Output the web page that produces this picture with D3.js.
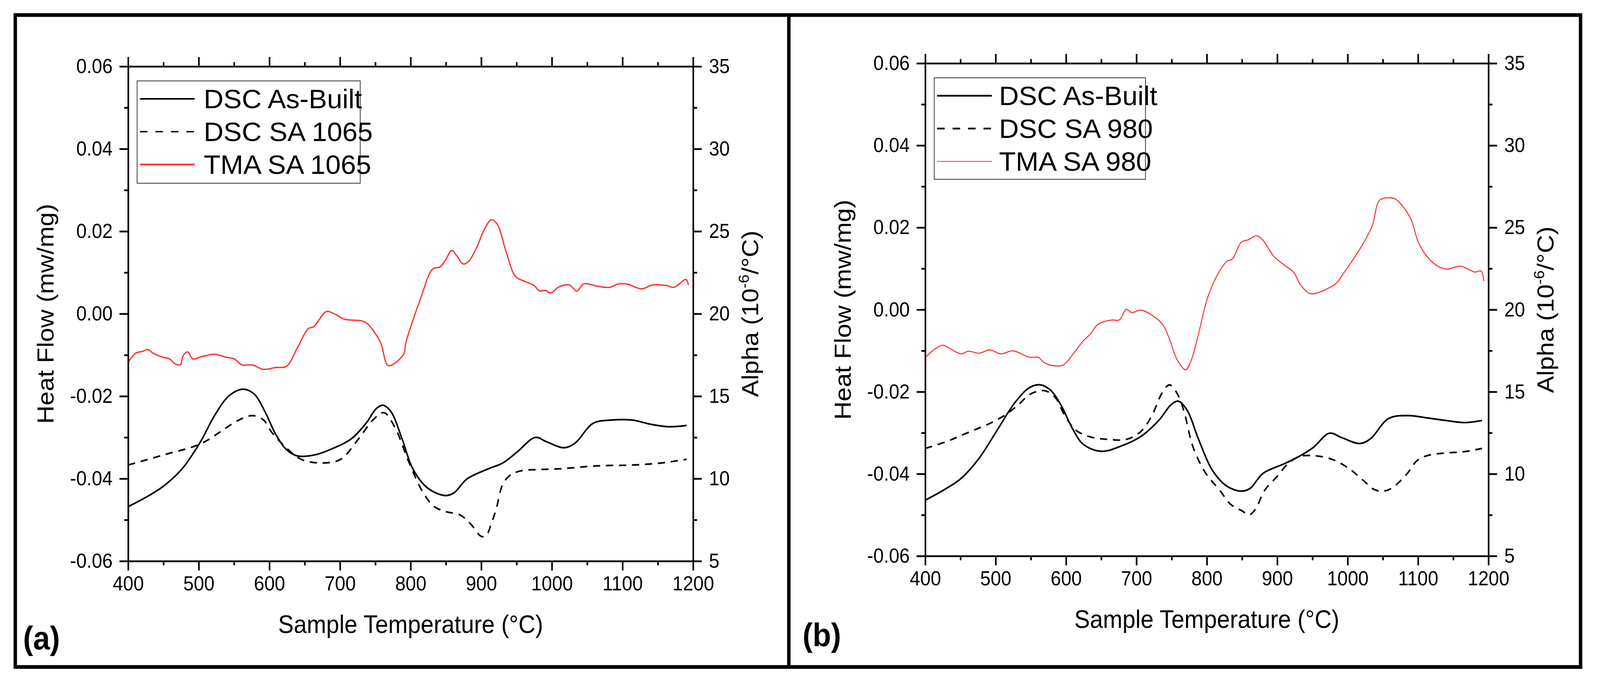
<!DOCTYPE html>
<html>
<head>
<meta charset="utf-8">
<script src="https://cdn.jsdelivr.net/npm/d3@7"></script>
<style>
  html, body { margin: 0; padding: 0; background: #fff; overflow: hidden; }
  svg { display: block; width: 100vw; height: 100vh; }
  text { font-family: "Liberation Sans", Arial, sans-serif; fill: #000; }
</style>
</head>
<body>
<svg id="chart" viewBox="0 0 4446 1748" preserveAspectRatio="none"></svg>
<script>
// ---- data: [temperature °C, value] ----
const xTicks = [400, 500, 600, 700, 800, 900, 1000, 1100, 1200];
const hfTicks = [-0.06, -0.04, -0.02, 0.00, 0.02, 0.04, 0.06];
const alphaTicks = [5, 10, 15, 20, 25, 30, 35];

// panel (a)
const dscAsBuiltA = [
  [400,-0.0468],[425.5,-0.0445],[451,-0.0417],[476.5,-0.0376],[502,-0.0312],[522.4,-0.0247],
  [542.9,-0.0199],[563.3,-0.0183],[578.6,-0.0195],[593.9,-0.0238],[609.2,-0.0293],[624.5,-0.0330],
  [639.8,-0.0345],[665.3,-0.0342],[690.8,-0.0326],[716.3,-0.0303],[736.7,-0.0266],[752,-0.0229],
  [761.2,-0.0222],[772.4,-0.0238],[787.8,-0.0303],[803.1,-0.0376],[823.5,-0.0422],[849,-0.0441],
  [861.7,-0.0434],[879.6,-0.0401],[910.2,-0.0376],[930.6,-0.0362],[951,-0.0335],[976.5,-0.0300],
  [991.8,-0.0310],[1017.3,-0.0325],[1032.7,-0.0314],[1058.2,-0.0266],[1083.7,-0.0258],[1114.3,-0.0258],
  [1139.8,-0.0268],[1165.3,-0.0274],[1190.8,-0.0271]
];
const dscSA1065 = [
  [400,-0.0367],[451,-0.0342],[502,-0.0316],[532.7,-0.0284],[553.1,-0.0261],[576,-0.0247],
  [591.3,-0.0257],[604,-0.0289],[624.5,-0.0326],[644.9,-0.0353],[675.5,-0.0362],[701,-0.0353],
  [726.5,-0.0303],[747,-0.0257],[762.2,-0.0240],[777.6,-0.0275],[798,-0.0362],[818.4,-0.0436],
  [833.7,-0.0468],[850,-0.0480],[870,-0.0488],[885,-0.0510],[900,-0.0540],[907,-0.0538],
  [915,-0.0505],[921,-0.0475],[930.6,-0.0413],[940.8,-0.0392],[956.1,-0.0381],[981.6,-0.0378],
  [1012.2,-0.0376],[1063.3,-0.0369],[1114.3,-0.0367],[1155.1,-0.0362],[1190.8,-0.0353]
];
const tmaSA1065 = [
  [400,17.03],[410.2,17.60],[420.4,17.72],[428,17.83],[435.7,17.60],[448.5,17.37],[458.7,17.26],
  [466.3,16.97],[474,16.91],[477.6,17.43],[484.2,17.69],[491.8,17.26],[502,17.37],[522.4,17.55],
  [537.8,17.37],[550.5,17.26],[560.7,16.91],[576,16.89],[591.3,16.63],[609.2,16.74],[624.5,16.82],
  [639.8,17.95],[655.1,19.10],[662.8,19.21],[680.6,20.13],[693.4,19.96],[706.1,19.67],[731.6,19.56],
  [739.3,19.38],[757.1,18.29],[768.4,16.86],[790.3,17.55],[792.9,18.18],[813.3,20.82],[831.1,22.71],
  [841.3,22.83],[849,23.23],[858.2,23.84],[865.3,23.52],[874.5,23.02],[882.1,23.17],[894.9,24.15],
  [902.5,24.95],[914.3,25.70],[922.9,25.41],[935.7,23.69],[948.5,22.26],[961.2,21.97],[974,21.74],
  [982.6,21.39],[990.8,21.42],[998.5,21.26],[1009.7,21.62],[1025,21.74],[1035.2,21.37],[1045.4,21.82],
  [1063.3,21.68],[1081.1,21.60],[1093.9,21.80],[1106.6,21.80],[1127,21.51],[1142.3,21.74],
  [1162.8,21.71],[1173,21.60],[1189.8,22.08],[1193.4,21.74]
];

// panel (b)
const dscAsBuiltB = [
  [400,-0.0464],[425.5,-0.0440],[451,-0.0411],[476.5,-0.0362],[502,-0.0294],[527.6,-0.0226],
  [548,-0.0190],[563.3,-0.0183],[578.6,-0.0197],[593.9,-0.0236],[609.2,-0.0290],[624.5,-0.0328],
  [650,-0.0345],[675.5,-0.0334],[706.1,-0.0309],[731.6,-0.0270],[749.5,-0.0231],[759.7,-0.0223],
  [772.4,-0.0246],[787.8,-0.0314],[808.2,-0.0392],[828.6,-0.0430],[849,-0.0442],[861.7,-0.0435],
  [879.6,-0.0399],[910.2,-0.0375],[930.6,-0.0358],[951,-0.0336],[974,-0.0301],[991.8,-0.0312],
  [1017.3,-0.0326],[1032.7,-0.0314],[1058.2,-0.0265],[1086.2,-0.0258],[1114.3,-0.0264],
  [1139.8,-0.0270],[1165.3,-0.0275],[1190.8,-0.0270]
];
const dscSA980 = [
  [400,-0.0338],[430.6,-0.0321],[461.2,-0.0299],[491.8,-0.0277],[512.2,-0.0258],[532.7,-0.0231],
  [548,-0.0207],[568.4,-0.0197],[583.7,-0.0212],[599,-0.0260],[614.3,-0.0294],[634.7,-0.0310],
  [660.2,-0.0316],[685.7,-0.0316],[706.1,-0.0297],[721.4,-0.0260],[736.7,-0.0202],[746.9,-0.0183],
  [757.1,-0.0202],[767.3,-0.0246],[780.1,-0.0333],[797.9,-0.0397],[818.4,-0.0440],[833.7,-0.0474],
  [850,-0.0490],[860,-0.0500],[869.4,-0.0485],[882.1,-0.0440],[900,-0.0406],[915.3,-0.0375],
  [930.6,-0.0358],[945.9,-0.0355],[966.3,-0.0359],[981.6,-0.0367],[1002,-0.0387],[1022.4,-0.0416],
  [1037.8,-0.0438],[1050.5,-0.0442],[1063.3,-0.0434],[1083.7,-0.0401],[1099,-0.0367],
  [1114.3,-0.0355],[1139.8,-0.0349],[1165.3,-0.0346],[1190.8,-0.0338]
];
const tmaSA980 = [
  [400,17.07],[410.2,17.49],[424.5,17.83],[435.7,17.61],[451,17.31],[461.2,17.47],[476.5,17.35],
  [491.8,17.55],[507.1,17.31],[525,17.49],[548,17.10],[560.7,17.10],[568.4,16.79],[583.7,16.58],
  [596.4,16.64],[609.2,17.25],[624.5,18.10],[634.7,18.52],[644.9,19.09],[665.3,19.37],[675.5,19.37],
  [685.7,20.02],[693.4,19.82],[706.1,19.98],[721.4,19.68],[736.7,19.13],[746.9,18.22],[757.1,17.01],
  [769.9,16.34],[777.5,16.88],[787.8,18.46],[800.5,20.65],[813.3,21.98],[828.6,22.95],[836.2,23.08],
  [849,24.11],[859.2,24.26],[870.4,24.50],[879.6,24.23],[894.9,23.26],[910.2,22.71],[923,22.29],
  [933.2,21.50],[945.9,20.99],[956.1,21.01],[976.5,21.40],[984.2,21.62],[994.4,22.23],[1007.1,23.01],
  [1022.4,24.05],[1035.2,25.14],[1045.4,26.66],[1060.7,26.81],[1068.4,26.72],[1088.8,25.62],
  [1101.6,23.99],[1121.9,22.83],[1139.8,22.47],[1160.2,22.65],[1180.6,22.29],[1189.8,22.35],
  [1193.4,21.74]
];

const RED = "#ff3333";

const panels = [
  {
    x0: 356, x1: 1926, y0: 170, y1: 1436, tag: "(a)", tagX: 64, tagY: 1662,
    legendW: 620, legendH: 262, textX: 185,
    series: [
      { name: "DSC As-Built", data: dscAsBuiltA, axis: "hf", color: "#000", width: 4.2, dash: null, legW: 4 },
      { name: "DSC SA 1065", data: dscSA1065, axis: "hf", color: "#000", width: 4.2, dash: "20,16", legW: 3.5 },
      { name: "TMA SA 1065", data: tmaSA1065, axis: "alpha", color: RED, width: 3.5, dash: null, legW: 4.5 }
    ]
  },
  {
    x0: 2571, x1: 4136, y0: 162, y1: 1423, tag: "(b)", tagX: 2230, tagY: 1654,
    legendW: 587, legendH: 260, textX: 180,
    series: [
      { name: "DSC As-Built", data: dscAsBuiltB, axis: "hf", color: "#000", width: 4.2, dash: null, legW: 4.5 },
      { name: "DSC SA 980", data: dscSA980, axis: "hf", color: "#000", width: 4.2, dash: "20,16", legW: 4.5 },
      { name: "TMA SA 980", data: tmaSA980, axis: "alpha", color: RED, width: 2.8, dash: null, legW: 1.8 }
    ]
  }
];

const svg = d3.select("#chart");

// outer frame and divider
svg.append("rect")
  .attr("x", 42.5).attr("y", 38.5)
  .attr("width", 4392 - 42.5).attr("height", 1707 - 38.5)
  .attr("fill", "none").attr("stroke", "#000").attr("stroke-width", 9.5);
svg.append("line")
  .attr("x1", 2192).attr("x2", 2192).attr("y1", 38).attr("y2", 1707)
  .attr("stroke", "#000").attr("stroke-width", 9.5);

function styleAxis(g, labelSize) {
  g.select(".domain").attr("stroke", "#000").attr("stroke-width", 4.5);
  g.selectAll(".tick line").attr("stroke", "#000").attr("stroke-width", 4.5);
  g.selectAll(".tick text")
    .attr("font-size", labelSize)
    .attr("font-family", "'Liberation Sans', Arial, sans-serif")
    .attr("fill", "#000");
}

panels.forEach(p => {
  const x = d3.scaleLinear().domain([400, 1200]).range([p.x0, p.x1]);
  const yHF = d3.scaleLinear().domain([-0.06, 0.06]).range([p.y1, p.y0]);
  const yA = d3.scaleLinear().domain([5, 35]).range([p.y1, p.y0]);

  const xMinor = d3.range(450, 1200, 100);
  const hfMinor = d3.range(-0.05, 0.06, 0.02);
  const aMinor = d3.range(7.5, 35, 5);

  const g = svg.append("g");

  // curves
  p.series.forEach(s => {
    const y = s.axis === "hf" ? yHF : yA;
    const line = d3.line()
      .x(d => x(d[0]))
      .y(d => y(d[1]))
      .curve(d3.curveCatmullRom.alpha(0.5));
    g.append("path")
      .datum(s.data)
      .attr("d", line)
      .attr("fill", "none")
      .attr("stroke", s.color)
      .attr("stroke-width", s.width)
      .attr("stroke-linejoin", "round")
      .attr("stroke-dasharray", s.dash);
  });

  // bottom axis
  const bottom = g.append("g").attr("transform", `translate(0,${p.y1})`)
    .call(d3.axisBottom(x).tickValues(xTicks).tickSize(24).tickSizeOuter(0).tickPadding(14).tickFormat(d3.format("d")));
  styleAxis(bottom, 52);
  bottom.selectAll(".tick text").attr("dy", "0.71em");
  const bottomMinor = g.append("g").attr("transform", `translate(0,${p.y1})`)
    .call(d3.axisBottom(x).tickValues(xMinor).tickSize(11).tickFormat(""));
  styleAxis(bottomMinor, 52);
  bottomMinor.select(".domain").remove();

  // top axis (ticks only)
  const top = g.append("g").attr("transform", `translate(0,${p.y0})`)
    .call(d3.axisTop(x).tickValues(xTicks).tickSize(24).tickSizeOuter(0).tickFormat(""));
  styleAxis(top, 52);
  const topMinor = g.append("g").attr("transform", `translate(0,${p.y0})`)
    .call(d3.axisTop(x).tickValues(xMinor).tickSize(11).tickFormat(""));
  styleAxis(topMinor, 52);
  topMinor.select(".domain").remove();

  // left axis (heat flow)
  const left = g.append("g").attr("transform", `translate(${p.x0},0)`)
    .call(d3.axisLeft(yHF).tickValues(hfTicks).tickSize(24).tickSizeOuter(0).tickPadding(19).tickFormat(d3.format(".2f")));
  styleAxis(left, 52);
  left.selectAll(".tick text").text(d => d3.format(".2f")(d).replace("−", "-"));
  const leftMinor = g.append("g").attr("transform", `translate(${p.x0},0)`)
    .call(d3.axisLeft(yHF).tickValues(hfMinor).tickSize(11).tickFormat(""));
  styleAxis(leftMinor, 52);
  leftMinor.select(".domain").remove();

  // right axis (alpha)
  const right = g.append("g").attr("transform", `translate(${p.x1},0)`)
    .call(d3.axisRight(yA).tickValues(alphaTicks).tickSize(24).tickSizeOuter(0).tickPadding(20).tickFormat(d3.format("d")));
  styleAxis(right, 52);
  const rightMinor = g.append("g").attr("transform", `translate(${p.x1},0)`)
    .call(d3.axisRight(yA).tickValues(aMinor).tickSize(11).tickFormat(""));
  styleAxis(rightMinor, 52);
  rightMinor.select(".domain").remove();

  const midX = (p.x0 + p.x1) / 2;
  const midY = (p.y0 + p.y1) / 2;

  // axis titles
  g.append("text")
    .attr("x", midX).attr("y", p.y1 + 184)
    .attr("text-anchor", "middle")
    .attr("font-size", 65)
    .text("Sample Temperature (°C)");

  g.append("text")
    .attr("transform", `translate(${p.x0 - 207},${midY}) rotate(-90)`)
    .attr("text-anchor", "middle")
    .attr("font-size", 65)
    .text("Heat Flow (mw/mg)");

  const rt = g.append("text")
    .attr("transform", `translate(${p.x1 + 181},${midY}) rotate(-90)`)
    .attr("text-anchor", "middle")
    .attr("font-size", 65);
  rt.append("tspan").text("Alpha (10");
  rt.append("tspan").attr("font-size", 40).attr("dy", -26).text("-6");
  rt.append("tspan").attr("dy", 26).text("/°C)");

  // legend
  const lg = g.append("g").attr("transform", `translate(${p.x0 + 25},${p.y0 + 37})`);
  lg.append("rect")
    .attr("width", p.legendW).attr("height", p.legendH)
    .attr("fill", "#fff").attr("stroke", "#555").attr("stroke-width", 2.5);
  p.series.forEach((s, i) => {
    const cy = 46 + i * 84;
    lg.append("line")
      .attr("x1", 8).attr("x2", 160).attr("y1", cy).attr("y2", cy)
      .attr("stroke", s.color).attr("stroke-width", s.legW)
      .attr("stroke-dasharray", s.dash ? "21,22" : null);
    const t = lg.append("text")
      .attr("x", p.textX).attr("y", cy + 24)
      .attr("font-size", 68)
      .text(s.name);
    // the source legend type is drawn a little wider than plain Arial
    const w = t.node().getComputedTextLength();
    t.attr("textLength", w * 1.12).attr("lengthAdjust", "spacingAndGlyphs");
  });

  // panel tag
  svg.append("text")
    .attr("x", p.tagX).attr("y", p.tagY)
    .attr("font-family", "Lato, 'Open Sans', sans-serif")
    .attr("font-weight", 700)
    .attr("font-size", 84)
    .text(p.tag);
});
</script>
</body>
</html>
